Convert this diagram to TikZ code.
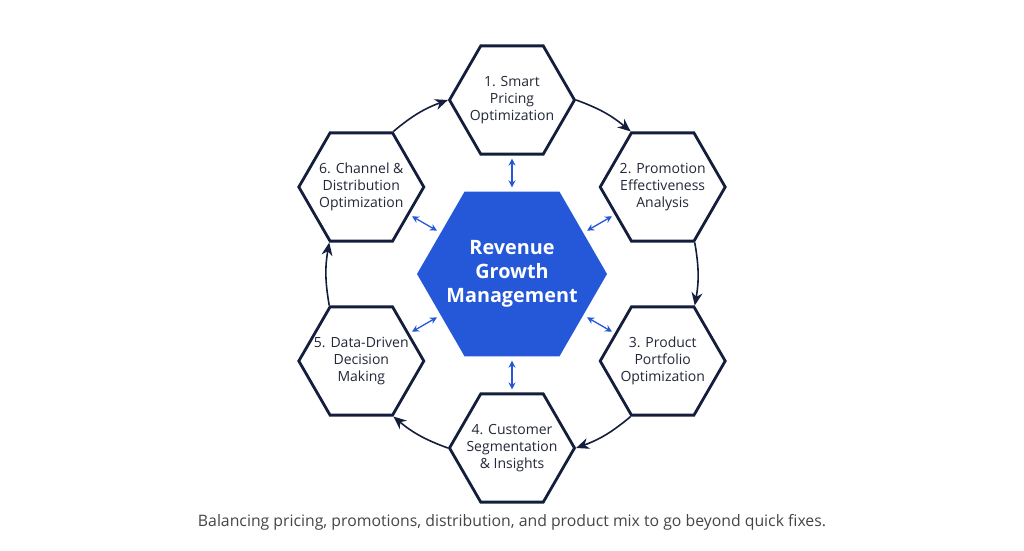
\documentclass[tikz,border=0pt]{standalone}
\usepackage{fontspec}
\setmainfont{Open Sans}
\usepackage{tikz}
\usetikzlibrary{arrows.meta,shapes.geometric,positioning}
\definecolor{rgmnavy}{HTML}{141E3C}
\definecolor{rgmblue}{HTML}{2558D8}
\definecolor{rgmtext}{HTML}{232838}
\definecolor{rgmgray}{HTML}{454545}

\begin{document}
\begin{tikzpicture}[
  x=1pt,y=1pt,
  hexbox/.style={regular polygon,regular polygon sides=6,minimum size=125pt,inner sep=0pt,draw=rgmnavy,line width=2.8pt,fill=white},
  hextext/.style={align=center,text=rgmtext,inner sep=0pt,font=\fontsize{14}{17}\selectfont},
  core/.style={hexbox,minimum size=190pt,draw=none,fill=rgmblue},
  coretext/.style={align=center,text=white,inner sep=0pt,font=\bfseries\fontsize{19.8}{24}\selectfont},
  flow/.style={-{Stealth[length=13pt,width=11pt]},line width=1.6pt,draw=rgmnavy},
  link/.style={{Stealth[length=7pt,width=7pt]}-{Stealth[length=7pt,width=7pt]},line width=1.3pt,draw=rgmblue,shorten >=3pt,shorten <=3pt}
]
\useasboundingbox (0,0) rectangle (1024,550);
\node[core,label={[coretext]center:{Revenue\\Growth\\Management}}] (rgm) at (512,276) {};
\node[hexbox,label={[hextext]center:{1. Smart\\Pricing\\Optimization}}] (pricing) at ([shift={(90:174)}]rgm.center) {};
\node[hexbox,label={[hextext]center:{2. Promotion\\Effectiveness\\Analysis}}] (promo) at ([shift={(30:174)}]rgm.center) {};
\node[hexbox,label={[hextext]center:{3. Product\\Portfolio\\Optimization}}] (portfolio) at ([shift={(-30:174)}]rgm.center) {};
\node[hexbox,label={[hextext]center:{4. Customer\\Segmentation\\\& Insights}}] (segment) at ([shift={(-90:174)}]rgm.center) {};
\node[hexbox,label={[hextext]center:{5. Data-Driven\\Decision\\Making}}] (decision) at ([shift={(-150:174)}]rgm.center) {};
\node[hexbox,label={[hextext]center:{6. Channel \&\\Distribution\\Optimization}}] (channel) at ([shift={(150:174)}]rgm.center) {};

% cycle round the outside
\draw[flow] (pricing.0) to[bend left=10] (promo.120);
\draw[flow] (promo.300) to[bend left=10] (portfolio.60);
\draw[flow] (portfolio.240) to[bend left=10] (segment.0);
\draw[flow] (segment.180) to[bend left=10] (decision.300);
\draw[flow] (decision.120) to[bend left=10] (channel.240);
\draw[flow] (channel.60) to[bend left=10] (pricing.180);

% links to the core
\draw[link] (rgm.90) -- (pricing.270);
\draw[link] (rgm.30) -- (promo.210);
\draw[link] (rgm.330) -- (portfolio.150);
\draw[link] (rgm.270) -- (segment.90);
\draw[link] (rgm.210) -- (decision.30);
\draw[link] (rgm.150) -- (channel.330);

\node[text=rgmgray,font=\fontsize{15.8}{18}\selectfont] (caption) at (512,28) {Balancing pricing, promotions, distribution, and product mix to go beyond quick fixes.};
\end{tikzpicture}
\end{document}
